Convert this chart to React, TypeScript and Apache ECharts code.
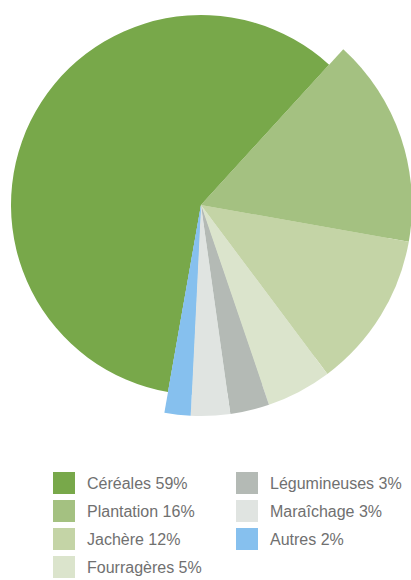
import React, { useEffect, useRef } from "react";
import * as echarts from "echarts";

const categories = ["Céréales", "Plantation", "Jachère", "Fourragères", "Légumineuses", "Maraîchage", "Autres"];
const values = [59, 16, 12, 5, 3, 3, 2];
const colors = ["#78A84A", "#A4C181", "#C4D4A6", "#DBE4CC", "#B4BAB5", "#E0E4E1", "#86C0EE"];
const legendCol1 = [0, 1, 2, 3];
const legendCol2 = [4, 5, 6];

export default function App() {
  const ref = useRef<HTMLDivElement>(null);
  useEffect(() => {
    const chart = echarts.init(ref.current!, null, { renderer: "svg" });
    const labelOf = (i: number) => `${categories[i]} ${values[i]}%`;
    const dataA = categories.map((c, i) => ({ name: labelOf(i), value: values[i], itemStyle: { color: colors[i] } }));
    const dataB = categories.map((c, i) => ({
      name: labelOf(i),
      value: values[i],
      itemStyle: { color: i === 0 ? "rgba(0,0,0,0)" : colors[i] },
    }));
    const legendBase = {
      orient: "vertical",
      top: 472,
      height: 108,
      itemWidth: 22,
      itemHeight: 22,
      itemGap: 6,
      icon: "rect",
      selectedMode: false,
      padding: 0,
      textStyle: { fontSize: 16, color: "#707070", fontFamily: "Liberation Sans, Arial, sans-serif", padding: [0, 0, 0, 7] },
    };
    chart.setOption({
      animation: false,
      legend: [
        { ...legendBase, left: 53, data: legendCol1.map((i) => ({ name: labelOf(i), itemStyle: { color: colors[i] } })) },
        { ...legendBase, left: 236, data: legendCol2.map((i) => ({ name: labelOf(i), itemStyle: { color: colors[i] } })) },
      ],
      series: [
        {
          type: "pie",
          center: [201, 205],
          radius: [0, 190],
          startAngle: 260,
          clockwise: true,
          label: { show: false },
          labelLine: { show: false },
          emphasis: { disabled: true },
          silent: true,
          itemStyle: { borderWidth: 0 },
          data: dataA,
        },
        {
          type: "pie",
          center: [201, 205],
          radius: [0, 211],
          startAngle: 260,
          clockwise: true,
          label: { show: false },
          labelLine: { show: false },
          emphasis: { disabled: true },
          silent: true,
          itemStyle: { borderWidth: 0 },
          data: dataB,
        },
      ],
    });
    return () => chart.dispose();
  }, []);
  return <div ref={ref} style={{ position: "fixed", left: 0, top: 0, width: 411, height: 580, background: "#fff" }} />;
}
